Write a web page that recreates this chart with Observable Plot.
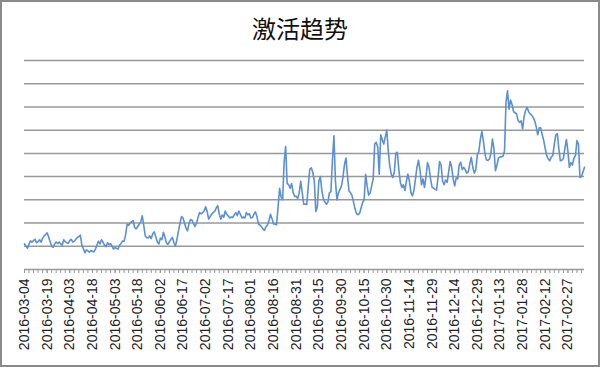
<!DOCTYPE html>
<html><head><meta charset="utf-8">
<script src="https://cdn.jsdelivr.net/npm/d3@7"></script>
<script src="https://cdn.jsdelivr.net/npm/@observablehq/plot@0.6"></script>
<style>
html,body{margin:0;padding:0;background:#fff;}
#wrap{position:relative;width:600px;height:367px;overflow:hidden;}
#frame{position:absolute;left:0;top:0;width:600px;height:367px;box-sizing:border-box;border:2px solid #8a8a8a;pointer-events:none;}
#title{position:absolute;left:0;top:11px;width:600px;text-align:center;font-family:"Noto Sans CJK SC";font-size:24px;color:#111;line-height:34px;}
#chart{position:absolute;left:0;top:0;}
</style></head><body>
<div id="wrap"><div id="chart"></div><div id="title">激活趋势</div><div id="frame"></div></div>
<script>
const startDate = "2016-03-04";
const activations = [
110,100,92,110,123,118,125,130,115,120,128,118,135,145,150,158,140,120,100,96,
110,118,112,118,110,105,128,120,115,113,125,130,118,122,130,138,142,148,105,90,
72,85,80,75,82,78,76,88,105,122,110,128,118,105,98,115,108,
111,100,88,95,90,88,105,112,123,122,150,195,190,200,206,210,180,175,185,195,
205,231,190,145,137,136,145,133,155,162,140,118,110,135,128,160,140,115,108,120,
130,138,115,102,130,165,198,228,222,200,178,166,200,215,212,198,185,200,225,245,
240,245,252,270,250,217,228,238,245,250,265,275,240,217,235,225,252,238,230,222,
226,224,236,245,232,252,238,222,226,222,245,236,240,222,224,238,248,228,195,192,
184,175,168,185,192,212,238,218,196,196,192,270,350,312,300,460,530,
370,365,350,370,330,315,315,305,330,380,330,281,282,280,360,432,438,418,380,250,
270,380,400,340,305,290,281,290,330,335,470,576,380,300,330,345,360,398,452,480,
400,338,330,318,290,260,240,236,242,265,288,300,410,360,320,330,360,390,540,548,
528,410,580,560,540,570,600,510,445,410,396,420,500,505,430,375,
353,365,340,380,411,380,331,317,340,390,440,470,430,365,390,353,400,460,440,390,
355,350,345,342,400,465,450,380,365,385,375,420,465,440,390,360,395,390,450,462,
430,440,430,415,420,455,483,440,415,430,495,508,560,595,555,500,472,470,475,500,
562,520,425,450,480,485,485,488,510,720,770,690,730,710,680,675,670,642,634,640,
605,660,685,698,680,670,665,655,640,615,580,610,610,580,555,520,490,476,468,485,
490,540,580,585,520,468,470,478,520,560,510,440,460,450,480,490,555,540,396,400,
420,440
];
const tickLabels = ["2016-03-04","2016-03-19","2016-04-03","2016-04-18","2016-05-03","2016-05-18",
"2016-06-02","2016-06-17","2016-07-02","2016-07-17","2016-08-01","2016-08-16","2016-08-31",
"2016-09-15","2016-09-30","2016-10-15","2016-10-30","2016-11-14","2016-11-29","2016-12-14",
"2016-12-29","2017-01-13","2017-01-28","2017-02-12","2017-02-27"];
const gridLevels = [100,200,300,400,500,600,700,800,900];
const minorEvery = 3;

const parse = d3.utcParse("%Y-%m-%d");
const t0 = parse(startDate);
const data = activations.map((v, i) => ({date: d3.utcDay.offset(t0, i), value: v}));
const tickDates = tickLabels.map(parse);
const minorTicks = data.filter((d, i) => i % minorEvery === 0).map(d => d.date);

const chart = Plot.plot({
  width: 600, height: 367,
  marginTop: 60, marginBottom: 98, marginLeft: 24, marginRight: 16,
  style: {background: "transparent", fontFamily: "Liberation Sans", fontSize: "14px"},
  x: {type: "utc", domain: [data[0].date, data[data.length - 1].date], label: null},
  y: {domain: [0, 900], axis: null},
  marks: [
    Plot.gridY(gridLevels, {stroke: "#999", strokeOpacity: 1, strokeWidth: 1.5}),
    Plot.ruleY([0], {stroke: "#999", strokeWidth: 1.5}),
    Plot.axisX(minorTicks, {tickSize: 4, stroke: "#999", strokeOpacity: 1, text: null, label: null}),
    Plot.axisX(tickDates, {tickSize: 4, tickPadding: 5, tickRotate: -90, stroke: "#999", strokeOpacity: 1,
      fill: "#222", fontSize: 14, tickFormat: d3.utcFormat("%Y-%m-%d"), label: null}),
    Plot.lineY(data, {x: "date", y: "value", stroke: "#5b8fd6", strokeWidth: 1.6})
  ]
});
document.getElementById("chart").appendChild(chart);
</script>
</body></html>
